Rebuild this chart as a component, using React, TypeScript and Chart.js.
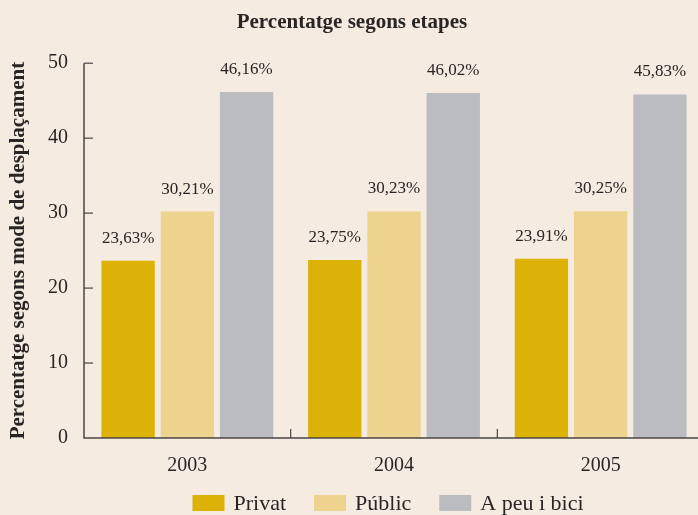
import { useEffect, useRef } from "react";
import { Chart, registerables } from "chart.js";

Chart.register(...registerables);

const categories = ["2003", "2004", "2005"];
const privatValues = [23.63, 23.75, 23.91];
const publicValues = [30.21, 30.23, 30.25];
const peuValues = [46.16, 46.02, 45.83];
const seriesNames = ["Privat", "Públic", "A peu i bici"];
const seriesColors = ["#DDB206", "#EDD38E", "#BBBCC0"];
const yMin = 0;
const yMax = 50;
const yStep = 10;

const BG = "#F5EBE0";
const FONT = "'Liberation Serif', serif";
const AXIS = "#4a4545";
const TEXT = "#2a2525";

const bgPlugin = {
  id: "bg",
  beforeDraw(chart: any) {
    const { ctx, width, height } = chart;
    ctx.save();
    ctx.fillStyle = BG;
    ctx.fillRect(0, 0, width, height);
    ctx.restore();
  },
};

const axesPlugin = {
  id: "axesInside",
  afterDatasetsDraw(chart: any) {
    const { ctx, chartArea } = chart;
    const x = chart.scales.x;
    const y = chart.scales.y;
    ctx.save();
    ctx.strokeStyle = AXIS;
    ctx.lineWidth = 1.5;
    ctx.beginPath();
    ctx.moveTo(chartArea.left, chartArea.top);
    ctx.lineTo(chartArea.left, chartArea.bottom);
    ctx.lineTo(chartArea.right, chartArea.bottom);
    ctx.stroke();
    ctx.lineWidth = 1.2;
    for (let v = yMin + yStep; v <= yMax; v += yStep) {
      const py = y.getPixelForValue(v);
      ctx.beginPath();
      ctx.moveTo(chartArea.left, py);
      ctx.lineTo(chartArea.left + 9, py);
      ctx.stroke();
    }
    for (let i = 0; i < categories.length - 1; i++) {
      const px = (x.getPixelForValue(i) + x.getPixelForValue(i + 1)) / 2;
      ctx.beginPath();
      ctx.moveTo(px, chartArea.bottom);
      ctx.lineTo(px, chartArea.bottom - 9);
      ctx.stroke();
    }
    ctx.restore();
  },
};

const labelPlugin = {
  id: "valueLabels",
  afterDatasetsDraw(chart: any) {
    const { ctx } = chart;
    ctx.save();
    ctx.fillStyle = TEXT;
    ctx.font = `17px ${FONT}`;
    ctx.textAlign = "center";
    ctx.textBaseline = "bottom";
    chart.data.datasets.forEach((ds: any, di: number) => {
      const meta = chart.getDatasetMeta(di);
      meta.data.forEach((el: any, i: number) => {
        const v = ds.data[i] as number;
        const txt = v.toFixed(2).replace(".", ",") + "%";
        ctx.fillText(txt, el.x, el.y - 14);
      });
    });
    ctx.restore();
  },
};

const legendPlugin = {
  id: "customLegend",
  afterDraw(chart: any) {
    const { ctx, chartArea } = chart;
    const boxW = 32;
    const boxH = 16;
    const gapBoxText = 9;
    const gapItems = 28;
    ctx.save();
    ctx.font = `22px ${FONT}`;
    ctx.textBaseline = "middle";
    ctx.textAlign = "left";
    const items = chart.data.datasets.map((ds: any) => ({
      label: ds.label as string,
      color: ds.backgroundColor as string,
      w: ctx.measureText(ds.label).width,
    }));
    const total =
      items.reduce((s: number, it: any) => s + boxW + gapBoxText + it.w, 0) +
      gapItems * (items.length - 1);
    let x0 = (chartArea.left + chartArea.right) / 2 - 6 - total / 2;
    const cy = 503;
    items.forEach((it: any) => {
      ctx.fillStyle = it.color;
      ctx.fillRect(x0, cy - boxH / 2, boxW, boxH);
      ctx.fillStyle = TEXT;
      ctx.fillText(it.label, x0 + boxW + gapBoxText, cy + 1);
      x0 += boxW + gapBoxText + it.w + gapItems;
    });
    ctx.restore();
  },
};

export default function App() {
  const ref = useRef<HTMLCanvasElement>(null);
  useEffect(() => {
    document.body.style.margin = "0";
    document.body.style.overflow = "hidden";
    document.body.style.background = BG;
    const canvas = ref.current!;
    const chart = new Chart(canvas, {
      type: "bar",
      data: {
        labels: categories,
        datasets: [
          { label: seriesNames[0], data: privatValues, backgroundColor: seriesColors[0] },
          { label: seriesNames[1], data: publicValues, backgroundColor: seriesColors[1] },
          { label: seriesNames[2], data: peuValues, backgroundColor: seriesColors[2] },
        ],
      },
      options: {
        responsive: false,
        animation: false,
        layout: { padding: { top: 0, left: 0, right: 0, bottom: 32 } },
        datasets: {
          bar: { categoryPercentage: 0.86, barPercentage: 0.9 },
        } as any,
        plugins: {
          title: {
            display: true,
            text: "Percentatge segons etapes",
            color: TEXT,
            font: { family: FONT, size: 21, weight: "bold" },
            padding: { top: 10, bottom: 28 },
          },
          legend: { display: false },
          tooltip: { enabled: false },
        },
        scales: {
          x: {
            grid: { display: false, drawTicks: false },
            border: { display: false },
            ticks: {
              color: TEXT,
              font: { family: FONT, size: 20 },
              padding: 16,
            },
            afterFit: (s: any) => {
              s.height = 45;
            },
          },
          y: {
            min: yMin,
            max: yMax,
            grid: { display: false, drawTicks: false },
            border: { display: false },
            ticks: {
              stepSize: yStep,
              color: TEXT,
              font: { family: FONT, size: 20 },
              padding: 16,
            },
            title: {
              display: true,
              text: "Percentatge segons mode de desplaçament",
              color: TEXT,
              font: { family: FONT, size: 21, weight: "bold" },
              padding: { top: 6, bottom: 0 },
            },
            afterFit: (s: any) => {
              s.width = 84;
            },
          },
        },
      },
      plugins: [bgPlugin, axesPlugin, labelPlugin, legendPlugin],
    });
    return () => chart.destroy();
  }, []);
  return <canvas ref={ref} width={704} height={515} style={{ display: "block" }} />;
}
